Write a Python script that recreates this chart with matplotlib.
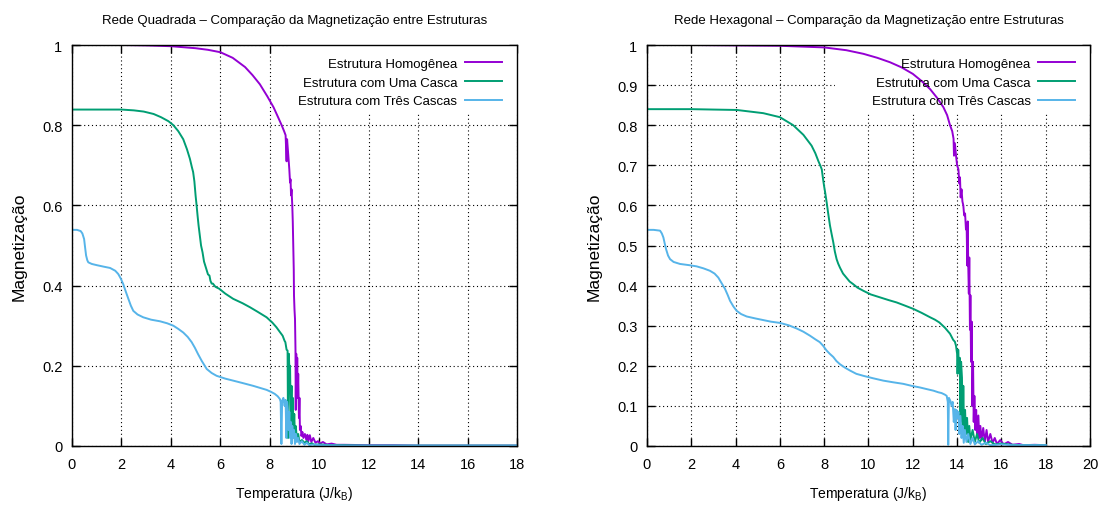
import matplotlib
matplotlib.use("Agg")
from matplotlib import pyplot as plt
from matplotlib.patches import Rectangle

# Rede quadrada: (temperatura, magnetização)
sq_hom = [(0, 1.0), (2, 1.0), (3, 0.999), (4, 0.997), (5, 0.992), (5.5, 0.988), (6, 0.982),
          (6.5, 0.968), (7, 0.945), (7.3, 0.925), (7.6, 0.902), (7.9, 0.872), (8.15, 0.845),
          (8.35, 0.818), (8.48, 0.80), (8.58, 0.785), (8.64, 0.775), (8.68, 0.71), (8.7, 0.765),
          (8.75, 0.724), (8.79, 0.69), (8.82, 0.657), (8.84, 0.665), (8.86, 0.625), (8.88, 0.64),
          (8.91, 0.60), (8.93, 0.56), (8.95, 0.50), (8.97, 0.44), (8.98, 0.375), (9.0, 0.34),
          (9.02, 0.317), (9.04, 0.24), (9.05, 0.09), (9.07, 0.23), (9.09, 0.13), (9.11, 0.22),
          (9.13, 0.12), (9.15, 0.18), (9.18, 0.07), (9.2, 0.12), (9.22, 0.04), (9.25, 0.05),
          (9.28, 0.025), (9.32, 0.035), (9.36, 0.02), (9.42, 0.03), (9.48, 0.015), (9.52, 0.028),
          (9.56, 0.012), (9.62, 0.027), (9.68, 0.01), (9.76, 0.02), (9.85, 0.008), (9.95, 0.012),
          (10.03, 0.006), (10.15, 0.01), (10.3, 0.004), (10.5, 0.006), (10.7, 0.003), (11, 0.003),
          (12, 0.002), (13, 0.002), (14, 0.001), (15, 0.001), (16, 0.001), (17, 0.001), (18, 0.001)]

sq_uma = [(0, 0.839), (1, 0.839), (2, 0.839), (2.5, 0.837), (2.9, 0.834), (3.3, 0.828), (3.6, 0.82),
          (3.9, 0.81), (4.1, 0.80), (4.3, 0.785), (4.5, 0.765), (4.65, 0.74), (4.77, 0.716),
          (4.85, 0.695), (4.9, 0.683), (4.95, 0.66), (5.0, 0.624), (5.04, 0.60), (5.08, 0.574),
          (5.12, 0.55), (5.17, 0.525), (5.22, 0.50), (5.28, 0.483), (5.34, 0.46), (5.41, 0.446),
          (5.5, 0.428), (5.56, 0.425), (5.6, 0.412), (5.65, 0.405), (5.7, 0.405), (5.8, 0.397),
          (5.96, 0.392), (6.2, 0.38), (6.52, 0.367), (6.9, 0.356), (7.2, 0.346), (7.5, 0.335),
          (7.87, 0.321), (8.1, 0.308), (8.27, 0.296), (8.4, 0.285), (8.52, 0.275), (8.6, 0.262),
          (8.63, 0.259), (8.68, 0.24), (8.72, 0.238), (8.74, 0.02), (8.77, 0.23), (8.8, 0.18),
          (8.82, 0.2), (8.85, 0.06), (8.88, 0.15), (8.9, 0.04), (8.93, 0.12), (8.96, 0.03),
          (8.99, 0.08), (9.02, 0.02), (9.05, 0.05), (9.1, 0.015), (9.15, 0.03), (9.2, 0.01),
          (9.3, 0.015), (9.4, 0.008), (9.5, 0.012), (9.6, 0.004), (9.7, 0.007), (9.8, 0.003),
          (10, 0.004), (10.5, 0.002), (11, 0.002), (12, 0.001), (14, 0.001), (16, 0.001), (18, 0.001)]

sq_tres = [(0, 0.539), (0.2, 0.539), (0.35, 0.536), (0.42, 0.53), (0.49, 0.516), (0.53, 0.495),
           (0.57, 0.475), (0.62, 0.463), (0.66, 0.458), (0.8, 0.454), (1.0, 0.451), (1.3, 0.447),
           (1.54, 0.444), (1.75, 0.437), (1.87, 0.429), (1.97, 0.418), (2.07, 0.404), (2.17, 0.386),
           (2.28, 0.367), (2.38, 0.35), (2.48, 0.337), (2.65, 0.328), (2.88, 0.321), (3.2, 0.315),
           (3.56, 0.311), (3.85, 0.306), (4.1, 0.30), (4.3, 0.292), (4.5, 0.283), (4.68, 0.272),
           (4.84, 0.259), (4.97, 0.245), (5.1, 0.229), (5.25, 0.212), (5.45, 0.192), (5.65, 0.182),
           (5.85, 0.175), (6.2, 0.168), (6.52, 0.163), (6.9, 0.157), (7.33, 0.150), (7.6, 0.145),
           (7.87, 0.14), (8.05, 0.135), (8.2, 0.13), (8.32, 0.124), (8.41, 0.117), (8.44, 0.11),
           (8.47, 0.005), (8.5, 0.113), (8.55, 0.12), (8.6, 0.1), (8.64, 0.115), (8.67, 0.02),
           (8.7, 0.11), (8.73, 0.09), (8.76, 0.04), (8.79, 0.085), (8.82, 0.02), (8.85, 0.06),
           (8.88, 0.005), (8.91, 0.05), (8.95, 0.02), (8.98, 0.04), (9.02, 0.005), (9.06, 0.03),
           (9.1, 0.01), (9.15, 0.02), (9.2, 0.005), (9.3, 0.012), (9.4, 0.003), (9.5, 0.008),
           (9.6, 0.002), (9.8, 0.004), (10, 0.002), (11, 0.001), (12, 0.001), (14, 0.001),
           (16, 0.001), (18, 0.001)]

# Rede hexagonal
hx_hom = [(0, 1.0), (2, 1.0), (4, 0.999), (6, 0.998), (7, 0.996), (8, 0.994), (9, 0.987),
          (9.77, 0.978), (10.4, 0.968), (10.97, 0.957), (11.5, 0.944), (12.0, 0.928), (12.4, 0.91),
          (12.78, 0.89), (13.1, 0.868), (13.38, 0.845), (13.55, 0.825), (13.68, 0.80), (13.78, 0.785),
          (13.84, 0.766), (13.86, 0.724), (13.9, 0.755), (13.95, 0.725), (14.0, 0.70), (14.06, 0.69),
          (14.1, 0.655), (14.13, 0.67), (14.16, 0.62), (14.2, 0.64), (14.24, 0.61), (14.28, 0.60),
          (14.32, 0.575), (14.36, 0.58), (14.4, 0.54), (14.43, 0.55), (14.46, 0.45), (14.48, 0.56),
          (14.5, 0.46), (14.53, 0.38), (14.55, 0.47), (14.58, 0.29), (14.6, 0.376), (14.63, 0.21),
          (14.66, 0.31), (14.69, 0.1), (14.72, 0.21), (14.75, 0.06), (14.78, 0.125), (14.82, 0.04),
          (14.86, 0.09), (14.9, 0.03), (14.96, 0.076), (15.0, 0.02), (15.05, 0.05), (15.1, 0.015),
          (15.18, 0.045), (15.25, 0.01), (15.33, 0.04), (15.4, 0.01), (15.5, 0.03), (15.6, 0.008),
          (15.7, 0.02), (15.8, 0.005), (15.95, 0.015), (16.1, 0.004), (16.3, 0.01), (16.5, 0.003),
          (16.8, 0.005), (17, 0.002), (17.5, 0.003), (18, 0.002)]

hx_uma = [(0, 0.84), (2, 0.84), (3, 0.839), (4.05, 0.838), (5.25, 0.83), (6.0, 0.82), (6.6, 0.80),
          (7.06, 0.776), (7.43, 0.749), (7.6, 0.73), (7.74, 0.71), (7.82, 0.70), (7.89, 0.69),
          (7.95, 0.665), (7.99, 0.65), (8.05, 0.63), (8.11, 0.608), (8.18, 0.58), (8.26, 0.55),
          (8.33, 0.53), (8.41, 0.508), (8.48, 0.485), (8.56, 0.466), (8.63, 0.455), (8.71, 0.445),
          (8.85, 0.43), (9.0, 0.42), (9.15, 0.41), (9.3, 0.404), (9.5, 0.395), (9.77, 0.387),
          (10.1, 0.378), (10.5, 0.371), (10.9, 0.364), (11.27, 0.358), (11.65, 0.35), (12.02, 0.342),
          (12.4, 0.332), (12.78, 0.321), (13.0, 0.315), (13.2, 0.308), (13.45, 0.295), (13.68, 0.28),
          (13.82, 0.265), (13.9, 0.26), (13.95, 0.25), (14.0, 0.23), (14.02, 0.18), (14.05, 0.24),
          (14.08, 0.2), (14.12, 0.22), (14.15, 0.06), (14.18, 0.21), (14.22, 0.17), (14.25, 0.04),
          (14.28, 0.15), (14.32, 0.02), (14.36, 0.09), (14.4, 0.03), (14.45, 0.07), (14.5, 0.01),
          (14.55, 0.05), (14.6, 0.015), (14.7, 0.04), (14.8, 0.01), (14.9, 0.03), (15.0, 0.008),
          (15.15, 0.02), (15.3, 0.005), (15.5, 0.012), (15.7, 0.004), (16, 0.006), (16.5, 0.003),
          (17, 0.002), (18, 0.002)]

hx_tres = [(0, 0.539), (0.3, 0.539), (0.59, 0.537), (0.67, 0.53), (0.74, 0.52), (0.8, 0.505),
           (0.86, 0.491), (0.95, 0.475), (1.04, 0.466), (1.2, 0.459), (1.49, 0.454), (1.9, 0.451),
           (2.24, 0.448), (2.55, 0.443), (2.84, 0.437), (3.05, 0.43), (3.22, 0.42), (3.38, 0.405),
           (3.52, 0.392), (3.64, 0.377), (3.75, 0.362), (3.9, 0.348), (4.05, 0.337), (4.25, 0.329),
           (4.5, 0.323), (4.9, 0.318), (5.25, 0.314), (5.6, 0.31), (6.0, 0.307), (6.4, 0.301),
           (6.76, 0.293), (7.06, 0.285), (7.36, 0.275), (7.6, 0.266), (7.8, 0.259), (7.95, 0.25),
           (8.11, 0.238), (8.25, 0.23), (8.41, 0.222), (8.55, 0.212), (8.71, 0.204), (8.95, 0.195),
           (9.17, 0.188), (9.45, 0.18), (9.77, 0.175), (10.2, 0.169), (10.67, 0.163), (11.1, 0.159),
           (11.57, 0.155), (11.95, 0.15), (12.32, 0.146), (12.62, 0.142), (12.93, 0.138),
           (13.15, 0.134), (13.3, 0.132), (13.45, 0.128), (13.53, 0.125), (13.58, 0.11),
           (13.6, 0.003), (13.63, 0.12), (13.7, 0.112), (13.75, 0.1), (13.8, 0.11), (13.85, 0.06),
           (13.9, 0.092), (13.93, 0.04), (13.97, 0.09), (14.02, 0.07), (14.06, 0.085), (14.1, 0.03),
           (14.15, 0.075), (14.2, 0.02), (14.25, 0.05), (14.3, 0.008), (14.35, 0.04), (14.42, 0.01),
           (14.5, 0.03), (14.6, 0.005), (14.7, 0.02), (14.8, 0.004), (14.95, 0.012), (15.1, 0.003),
           (15.3, 0.008), (15.5, 0.002), (16, 0.004), (16.5, 0.002), (17, 0.002), (18, 0.002)]

labels = ["Estrutura Homogênea", "Estrutura com Uma Casca", "Estrutura com Três Cascas"]
colors = ["#9400d3", "#009e73", "#56b4e9"]

sq_yticks = [0, 0.2, 0.4, 0.6, 0.8, 1]
sq_yticklabels = ["0", "0.2", "0.4", "0.6", "0.8", "1"]
hx_yticks = [0, 0.1, 0.2, 0.3, 0.4, 0.5, 0.6, 0.7, 0.8, 0.9, 1]
hx_yticklabels = ["0", "0.1", "0.2", "0.3", "0.4", "0.5", "0.6", "0.7", "0.8", "0.9", "1"]

plt.rcParams['font.family'] = ['Liberation Sans', 'DejaVu Sans']
plt.rcParams['mathtext.fontset'] = 'custom'
plt.rcParams['mathtext.rm'] = 'Liberation Sans'

fig = plt.figure(figsize=(11.06, 5.06), dpi=100)
ax1 = fig.add_axes([72 / 1106, 1 - 447 / 506, 445 / 1106, 401 / 506])
ax2 = fig.add_axes([647 / 1106, 1 - 447 / 506, 443 / 1106, 401 / 506])

panels = [
    (ax1, [sq_hom, sq_uma, sq_tres], 18, sq_yticks, sq_yticklabels,
     "Rede Quadrada – Comparação da Magnetização entre Estruturas", 0.49),
    (ax2, [hx_hom, hx_uma, hx_tres], 20, hx_yticks, hx_yticklabels,
     "Rede Hexagonal – Comparação da Magnetização entre Estruturas", 0.424),
]

for ax, series, xmax, yt, ytl, title, box_x in panels:
    ax.set_axisbelow(True)
    ax.grid(True, color="black", linestyle=(0, (1, 2.5)), linewidth=0.8)
    # fundo branco da legenda, esconde a grade
    ax.add_patch(Rectangle((box_x, 0.83), 1 - box_x, 0.17, transform=ax.transAxes,
                           facecolor="white", edgecolor="none", zorder=1))
    handles = []
    for data, lab, c in zip(series, labels, colors):
        t = [p[0] for p in data]
        m = [p[1] for p in data]
        h, = ax.plot(t, m, color=c, linewidth=1.4, label=lab, zorder=2)
        handles.append(h)

    ax.set_xlim(0, xmax)
    ax.set_ylim(0, 1)
    ax.set_xticks(range(0, xmax + 1, 2))
    ax.set_yticks(yt)
    ax.set_yticklabels(ytl)
    ax.tick_params(direction="in", top=True, right=True, length=6, width=1,
                   labelsize=10.5, colors="black")
    ax.tick_params(axis="x", pad=8)
    ax.tick_params(axis="y", pad=7)
    for s in ax.spines.values():
        s.set_linewidth(1.0)

    ax.set_xlabel("Temperatura (J/k$_{\\mathregular{B}}$)", fontsize=10, labelpad=9)
    ax.set_ylabel("Magnetização", fontsize=12.5, labelpad=11)
    ax.set_title(title, fontsize=9.5, pad=16)

    leg = ax.legend(handles=handles, loc="upper right", bbox_to_anchor=(0.967, 0.968),
                    markerfirst=False, frameon=False, fontsize=9.5, handlelength=2.8,
                    handletextpad=0.6, labelspacing=0.48, borderpad=0, borderaxespad=0)
    leg.set_zorder(5)

fig.savefig("out.png", dpi=100)
